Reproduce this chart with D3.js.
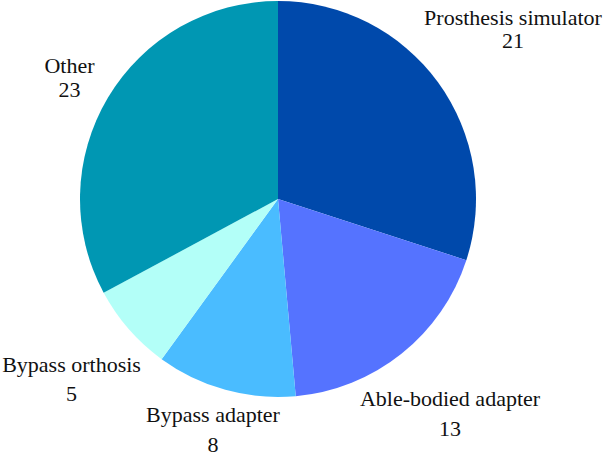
<!DOCTYPE html>
<html>
<head>
<meta charset="utf-8">
<script src="https://cdn.jsdelivr.net/npm/d3@7"></script>
<style>
  body { margin: 0; background: #fff; }
</style>
</head>
<body>
<div id="chart"></div>
<script>
const categories = ["Prosthesis simulator", "Able-bodied adapter", "Bypass adapter", "Bypass orthosis", "Other"];
const counts = [21, 13, 8, 5, 23];
const colors = ["#0049AB", "#5573FF", "#4ABCFF", "#B3FFF8", "#0097B3"];

const width = 604, height = 456;
const cx = 278, cy = 199, radius = 198;
// where each label block sits relative to the pie centre (hand placed, like the original)
const labelOffset = [[235, -162.5], [172, 222], [-65, 238], [-206.5, 187.5], [-208.5, -114]];

let svg = d3.select("#chart")
    .append("svg")
    .attr("width", width)
    .attr("height", height)
    .append("g")
    .attr("transform", `translate(${cx},${cy})`);

let data = categories.map(function(c, i) { return {name: c, value: counts[i], color: colors[i], idx: i}; });

let pie = d3.pie()
    .sort(null)
    .value(function(d) { return d.value; });

let arc = d3.arc()
    .innerRadius(0)
    .outerRadius(radius);

let arcs = pie(data);

svg.selectAll("path")
    .data(arcs)
    .enter()
    .append("path")
    .attr("d", arc)
    .attr("fill", function(d) { return d.data.color; });

let labels = svg.selectAll("g.label")
    .data(arcs)
    .enter()
    .append("g")
    .attr("class", "label")
    .attr("font-family", "'Liberation Serif', 'Times New Roman', Times, serif")
    .attr("font-size", 22)
    .attr("fill", "#111")
    .attr("transform", function(d) {
        let o = labelOffset[d.data.idx];
        return `translate(${o[0]},${o[1]})`;
    });

labels.each(function(d) {
    let a = (d.startAngle + d.endAngle) / 2;
    let upper = Math.cos(a) > 0;
    let gap = upper ? 23.5 : 29.5;
    let g = d3.select(this);
    g.append("text")
        .attr("y", -gap / 2)
        .style("text-anchor", "middle")
        .text(d.data.name);
    g.append("text")
        .attr("y", gap / 2)
        .style("text-anchor", "middle")
        .text(d.data.value);
});
</script>
</body>
</html>
